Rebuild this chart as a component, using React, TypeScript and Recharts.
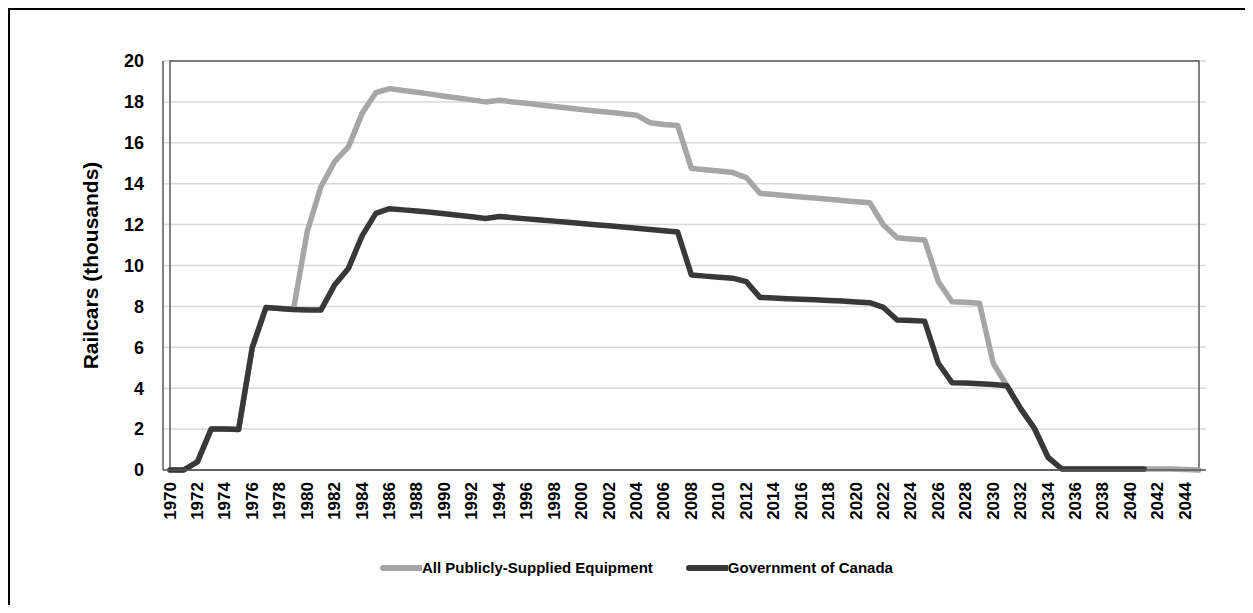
import React from 'react';
import { LineChart, Line, XAxis, YAxis, CartesianGrid, Legend, ReferenceArea } from 'recharts';

const years = [
  '1970','1971','1972','1973','1974','1975','1976','1977','1978','1979',
  '1980','1981','1982','1983','1984','1985','1986','1987','1988','1989',
  '1990','1991','1992','1993','1994','1995','1996','1997','1998','1999',
  '2000','2001','2002','2003','2004','2005','2006','2007','2008','2009',
  '2010','2011','2012','2013','2014','2015','2016','2017','2018','2019',
  '2020','2021','2022','2023','2024','2025','2026','2027','2028','2029',
  '2030','2031','2032','2033','2034','2035','2036','2037','2038','2039',
  '2040','2041','2042','2043','2044','2045',
];

const allPublic = [
  0, 0, 0.4, 2.0, 2.0, 1.98, 6.0, 7.95, 7.9, 7.85,
  11.65, 13.85, 15.08, 15.8, 17.44, 18.45, 18.65, 18.56, 18.47, 18.38,
  18.28, 18.19, 18.1, 18.0, 18.08, 18.0, 17.93, 17.85, 17.78, 17.7,
  17.63, 17.56, 17.49, 17.42, 17.35, 16.98, 16.9, 16.85, 14.75, 14.68,
  14.62, 14.55, 14.3, 13.53, 13.47, 13.41, 13.35, 13.3, 13.24, 13.18,
  13.12, 13.07, 11.98, 11.36, 11.3, 11.25, 9.21, 8.23, 8.2, 8.15,
  5.22, 4.12, 3.0, 2.04, 0.62, 0.05, 0.05, 0.05, 0.05, 0.05,
  0.05, 0.05, 0.05, 0.05, 0.02, 0.0,
];

const govCanada: (number | null)[] = [
  0, 0, 0.4, 2.0, 2.0, 1.98, 6.0, 7.95, 7.9, 7.85,
  7.82, 7.82, 9.05, 9.85, 11.45, 12.55, 12.78, 12.72, 12.66, 12.6,
  12.53, 12.46, 12.38, 12.3, 12.4, 12.34, 12.28, 12.22, 12.17, 12.11,
  12.05, 11.99, 11.94, 11.88, 11.82, 11.76, 11.7, 11.64, 9.54, 9.48,
  9.43, 9.38, 9.21, 8.44, 8.41, 8.38, 8.35, 8.32, 8.29, 8.26,
  8.22, 8.18, 7.95, 7.33, 7.31, 7.28, 5.22, 4.27, 4.25, 4.22,
  4.18, 4.12, 3.0, 2.04, 0.62, 0.05, 0.05, 0.05, 0.05, 0.05,
  0.05, 0.05, null, null, null, null,
];

const yTicks = [0, 2, 4, 6, 8, 10, 12, 14, 16, 18, 20];

const seriesNames = ['All Publicly-Supplied Equipment', 'Government of Canada'];
const seriesColors = ['#a6a6a6', '#383838'];

const data = years.map((y, i) => ({ year: y, allPublic: allPublic[i], govCanada: govCanada[i] }));

const FONT = '"Liberation Sans", Arial, sans-serif';

const XTick = (props: any) => {
  const { x, y, payload } = props;
  return (
    <text
      x={x}
      y={y + 4}
      transform={`rotate(-90, ${x}, ${y + 4})`}
      textAnchor="end"
      dominantBaseline="central"
      fontFamily={FONT}
      fontWeight="bold"
      fontSize={17}
      fill="#000"
    >
      {payload.value}
    </text>
  );
};

const LegendContent = () => (
  <div style={{ display: 'flex', alignItems: 'center', fontFamily: FONT, fontWeight: 'bold', fontSize: 15, color: '#000' }}>
    {seriesNames.map((n, i) => (
      <div key={n} style={{ display: 'flex', alignItems: 'center', marginRight: 32 }}>
        <svg width={43} height={8} style={{ display: 'block' }}>
          <line x1={4} y1={4} x2={42} y2={4} stroke={seriesColors[i]} strokeWidth={6} strokeLinecap="round" />
        </svg>
        <span style={{ whiteSpace: 'nowrap' }}>{n}</span>
      </div>
    ))}
  </div>
);

export default function App() {
  return (
    <div style={{ position: 'relative', width: 1245, height: 597 }}>
      <div
        style={{
          position: 'absolute',
          top: 0,
          left: 0,
          width: 1245,
          height: 2,
          background: '#000',
          zIndex: 5,
        }}
      />
      <div
        style={{
          position: 'absolute',
          top: 0,
          left: 0,
          width: 2,
          height: 597,
          background: '#000',
          zIndex: 5,
        }}
      />
      <LineChart
        width={1245}
        height={597}
        data={data}
        margin={{ top: 53, right: 47, bottom: 0, left: 0 }}
      >
        <CartesianGrid vertical={false} stroke="#d9d9d9" strokeWidth={1.5} />
        <ReferenceArea y1={0} y2={20} fill="none" stroke="#595959" strokeWidth={1.5} />
        <XAxis
          dataKey="year"
          interval={1}
          height={135}
          padding={{ left: 7, right: 7 }}
          tick={<XTick />}
          tickLine={false}
          axisLine={{ stroke: '#595959', strokeWidth: 1.5 }}
        />
        <YAxis
          width={155}
          domain={[0, 20]}
          ticks={yTicks}
          tickSize={0}
          tickMargin={19}
          tickLine={false}
          axisLine={{ stroke: '#595959', strokeWidth: 1.5 }}
          tick={{ fontFamily: FONT, fontWeight: 'bold', fontSize: 18, fill: '#000' }}
          label={{
            content: (p: any) => {
              const vb = p.viewBox || { x: 0, y: 53, width: 155, height: 409 };
              const cx = vb.x + 82;
              const cy = vb.y + vb.height / 2;
              return (
                <text
                  x={cx}
                  y={cy}
                  transform={`rotate(-90, ${cx}, ${cy})`}
                  textAnchor="middle"
                  dominantBaseline="central"
                  fontFamily={FONT}
                  fontWeight="bold"
                  fontSize={21}
                  fill="#000"
                >
                  Railcars (thousands)
                </text>
              );
            },
          }}
        />
        <Legend
          layout="horizontal"
          verticalAlign="middle"
          align="center"
          content={<LegendContent />}
          wrapperStyle={{ top: 551, left: 371, width: 'auto' }}
        />
        <Line
          type="linear"
          dataKey="allPublic"
          name={seriesNames[0]}
          stroke={seriesColors[0]}
          strokeWidth={5.5}
          strokeLinejoin="round"
          strokeLinecap="round"
          dot={false}
          activeDot={false}
          isAnimationActive={false}
        />
        <Line
          type="linear"
          dataKey="govCanada"
          name={seriesNames[1]}
          stroke={seriesColors[1]}
          strokeWidth={5.5}
          strokeLinejoin="round"
          strokeLinecap="round"
          dot={false}
          activeDot={false}
          isAnimationActive={false}
        />
      </LineChart>
    </div>
  );
}
